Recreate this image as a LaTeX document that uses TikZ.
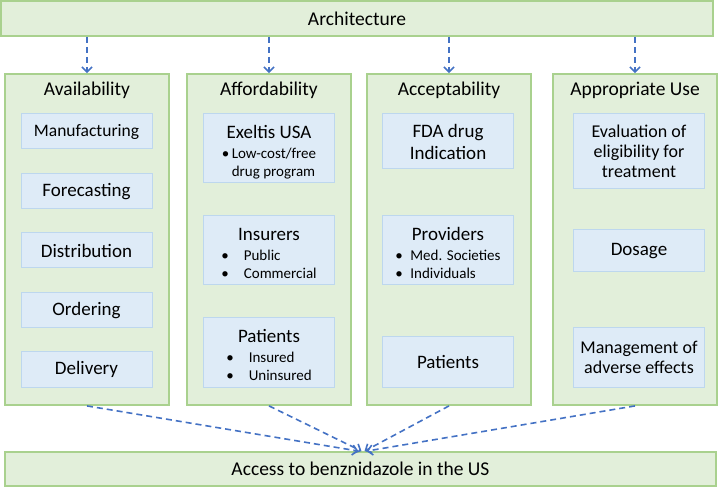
\documentclass[tikz,border=0pt]{standalone}
\usepackage{fontspec}
\setmainfont{Carlito}
\usetikzlibrary{arrows.meta}
\definecolor{colfill}{HTML}{E2EFDA}
\definecolor{colline}{HTML}{A9D18E}
\definecolor{itemfill}{HTML}{DEEBF7}
\definecolor{itemline}{HTML}{BDD7EE}
\definecolor{linkblue}{HTML}{4472C4}
\tikzset{> = {Straight Barb[length=5pt,width=10pt]}}
\tikzset{
  band/.style={draw=colline, fill=colfill, line width=1.8pt, inner sep=0pt,
    font=\fontsize{19.5}{22}\selectfont},
  column/.style={band, minimum width=164pt, minimum height=331pt},
  colhead/.style={font=\fontsize{19.5}{22}\selectfont, inner sep=0pt},
  itembox/.style={draw=itemline, fill=itemfill, line width=1pt, minimum width=131pt,
    inner sep=0pt, align=center, font=\fontsize{19}{22}\selectfont},
  link/.style={->, draw=linkblue, line width=1.6pt, dash pattern=on 6pt off 4pt},
}
\newcommand{\bul}{\fontsize{15}{18}\selectfont}
\newcommand{\topstrut}{\rule{0pt}{24pt}}

\begin{document}
\begin{tikzpicture}[x=1pt, y=-1pt]
	\useasboundingbox (0,0) rectangle (721,489);
	% frame
	\node[band, minimum width=712pt, minimum height=35pt] (arch) at (357,18.5) {Architecture};
	\node[band, minimum width=711pt, minimum height=34pt] (access) at (360.5,469) {Access to benznidazole in the US};
	\node[column] (avail) at (87,239.5) {};
	\node[column] (afford) at (269,239.5) {};
	\node[column] (accept) at (449,239.5) {};
	\node[column] (approp) at (635,239.5) {};
	\node[colhead] at (87,90) {Availability};
	\node[colhead] at (269,90) {Affordability};
	\node[colhead] at (449,90) {Acceptability};
	\node[colhead] at (635,90) {Appropriate Use};
	% availability
	\node[itembox, minimum height=35pt, font=\fontsize{17.5}{20}\selectfont] (manu) at (86.5,131.5) {Manufacturing};
	\node[itembox, minimum height=35pt] (fore) at (86.5,191.5) {Forecasting};
	\node[itembox, minimum height=35pt] (distr) at (86.5,250.5) {Distribution};
	\node[itembox, minimum height=35pt] (order) at (86.5,310.5) {Ordering};
	\node[itembox, minimum height=35pt] (deliv) at (86.5,369.5) {Delivery};
	% affordability
	\node[itembox, minimum height=69pt] (exel) at (269,148.5) {\topstrut Exeltis USA\\[-2pt]
	    {\bul\begin{tabular}[t]{@{}l@{\,}l@{}}\textbullet & Low-cost/free\\ & drug program\end{tabular}}};
	\node[itembox, minimum height=69pt] (insur) at (269,250.5) {\topstrut Insurers\\[-2pt]
	    {\bul\begin{tabular}[t]{@{}l@{\quad}l@{}}\textbullet & Public\\ \textbullet & Commercial\end{tabular}}};
	\node[itembox, minimum height=69pt] (patA) at (269,352.5) {\topstrut Patients\\[-2pt]
	    {\bul\begin{tabular}[t]{@{}l@{\quad}l@{}}\textbullet & Insured\\ \textbullet & Uninsured\end{tabular}}};
	% acceptability
	\node[itembox, minimum height=55pt] (fda) at (448,141.5) {FDA drug\\Indication};
	\node[itembox, minimum height=69pt] (prov) at (448,250.5) {\topstrut Providers\\[-2pt]
	    {\bul\begin{tabular}[t]{@{}l@{\enspace}l@{}}\textbullet & Med. Societies\\ \textbullet & Individuals\end{tabular}}};
	\node[itembox, minimum height=50pt] (patB) at (448,362) {Patients};
	% appropriate use
	\node[itembox, minimum height=75pt, font=\fontsize{18}{20}\selectfont] (eval) at (639,151.5) {Evaluation of\\eligibility for\\treatment};
	\node[itembox, minimum height=42pt] (dose) at (639,251) {Dosage};
	\node[itembox, minimum height=59pt, font=\fontsize{18}{20}\selectfont] (manag) at (639,357.5) {Management of\\adverse effects};
	% links
	\foreach \c in {avail,afford,accept,approp}
	    \draw[link] (arch.south -| \c.north) -- (\c.north);
	\draw[link] (avail.south) -- ([xshift=-2pt]access.north);
	\draw[link] (afford.south) -- ([xshift=1pt]access.north);
	\draw[link] (accept.south) -- ([xshift=4pt]access.north);
	\draw[link] (approp.south) -- ([xshift=6pt]access.north);
\end{tikzpicture}
\end{document}
